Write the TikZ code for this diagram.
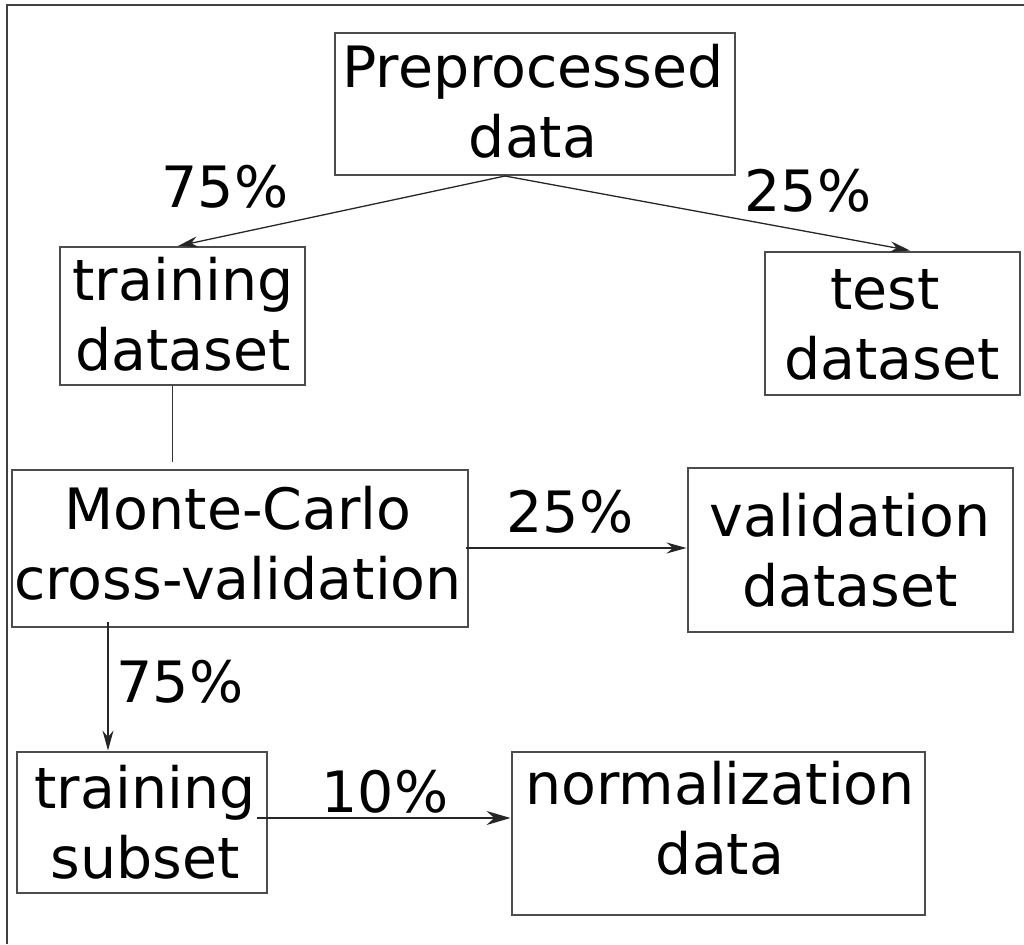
\documentclass[tikz,border=0pt]{standalone}
\usepackage{fontspec}
\setmainfont{DejaVu Sans}
\usetikzlibrary{arrows.meta,calc}
\begin{document}
\begin{tikzpicture}[x=1pt,y=-1pt,
  every node/.style={font=\fontsize{57}{70}\selectfont},
  box/.style={draw=black!70,line width=2pt,inner sep=0pt},
  txt/.style={inner sep=0pt,align=center},
  arr/.style={draw=black!85,line width=1.3pt,-{Stealth[length=20pt,width=11pt]}},
  link/.style={draw=black!80,line width=1pt},
  pct/.style={inner sep=0pt}]
\useasboundingbox (0,0) rectangle (1024,944);
% page frame (top and left edges)
\draw[black!75,line width=1.5pt] (7,944) -- (7,5) -- (1024,5);

% boxes
\node[box,minimum width=400pt,minimum height=142pt] (pre) at (535,104) {};
\node[box,minimum width=245pt,minimum height=138pt] (tds) at (182,316) {};
\node[box,minimum width=255pt,minimum height=143pt] (test) at (892,323) {};
\node[box,minimum width=456pt,minimum height=157pt] (mc) at (240,548) {};
\node[box,minimum width=325pt,minimum height=164pt] (val) at (850,550) {};
\node[box,minimum width=250pt,minimum height=141pt] (ts) at (142,822) {};
\node[box,minimum width=413pt,minimum height=163pt] (norm) at (718,833) {};

% box texts
\node[txt] (preT)  at (533,101) {Preprocessed\\data};
\node[txt] (tdsT)  at (183,314) {training\\dataset};
\node[txt] (testT) at (892,325) {\hspace*{-14pt}test\\dataset};
\node[txt] (mcT)   at (238,543) {Monte-Carlo\\cross-validation};
\node[txt] (valT)  at (850,550) {validation\\dataset};
\node[txt] (tsT)   at (145,822) {training\\subset};
\node[txt] (normT) at (720,818) {normalization\\data};

% connectors
\coordinate (split) at ([xshift=-30pt]pre.south);
\draw[arr] (split) -- ([xshift=-4pt]tds.north);
\draw[arr] (split) -- ([xshift=18pt]test.north);
\coordinate (gap) at (172,462);
\draw[link] (tds.south -| gap) -- (gap);
\draw[arr] ([xshift=-3pt]mc.east) -- (val.west |- mc.east);
\draw[arr] ([shift={(-132pt,6pt)}]mc.south) coordinate (s1) -- (s1 |- ts.north);
\draw[arr,line width=1.8pt,-{Stealth[length=24pt,width=14pt]}] ([shift={(-11pt,4pt)}]ts.east) coordinate (s2) -- (norm.west |- s2);

% split percentages
\node[pct] (p1) at (225,187) {75\%};
\node[pct] (p2) at (808,191) {25\%};
\node[pct] (p3) at (570,512) {25\%};
\node[pct] (p4) at (180,682) {75\%};
\node[pct] (p5) at (385,792) {10\%};
\end{tikzpicture}
\end{document}
